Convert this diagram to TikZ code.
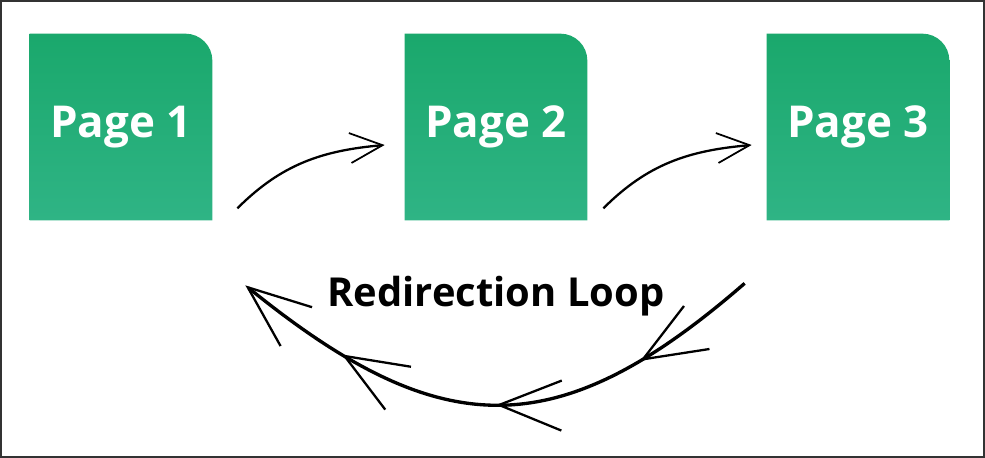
\documentclass[tikz,border=0pt]{standalone}
\usepackage{fontspec}
\setmainfont{Open Sans}
\usetikzlibrary{arrows.meta,decorations.markings,backgrounds}
\definecolor{pagetop}{RGB}{26,168,108}
\definecolor{pagebottom}{RGB}{47,180,133}
\tikzset{
    hooktip/.tip={Straight Barb[length=6.5mm,width=6mm,line width=1pt]},
    looptip/.tip={Straight Barb[length=12.5mm,width=10mm,line width=1.3pt]}
}
\begin{document}
\begin{tikzpicture}[x=.2mm, y=.2mm,
    page/.style={minimum width=36.4mm, minimum height=37.2mm, inner sep=0pt,
        text=white, font=\fontsize{25}{30}\selectfont\bfseries},
    pagefill/.style={top color=pagetop, bottom color=pagebottom},
    hop/.style={-{hooktip}, line width=1.3pt},
    redirect/.style={-{looptip}, line width=1.9pt,
        decoration={markings,
            mark=at position .23 with {\arrow{looptip}},
            mark=at position .5 with {\arrow{looptip}},
            mark=at position .79 with {\arrow{looptip}}},
        postaction={decorate}}]
    \useasboundingbox (0,0) rectangle (985,458);
    \draw[line width=.4mm, black!80] (1,1) rectangle (984,457);

    \foreach \i/\x in {1/121, 2/496, 3/858}{
        \node[page] (P\i) at (\x,331) {Page \i};
        \begin{scope}[on background layer]
            \shade[pagefill] (P\i.south west) -- (P\i.north west) -- ([xshift=-5.4mm]P\i.north east)
                arc[start angle=90, end angle=0, radius=5.4mm] -- (P\i.south east) -- cycle;
        \end{scope}
    }

    \draw[hop] ([shift={(25,12)}]P1.south east) to[out=45, in=185] ([shift={(-20,-18)}]P2.west);
    \draw[hop] ([shift={(16,12)}]P2.south east) to[out=45, in=185] ([shift={(-15,-18)}]P3.west);

    \node[anchor=base, font=\fontsize{22.7}{27}\selectfont\bfseries] (L) at (496,151) {Redirection Loop};
    \draw[redirect] ([shift={(-22,-63)}]P3.south west) to[out=221, in=-39, looseness=1.28] ([shift={(33,-65)}]P1.south east);
\end{tikzpicture}
\end{document}
